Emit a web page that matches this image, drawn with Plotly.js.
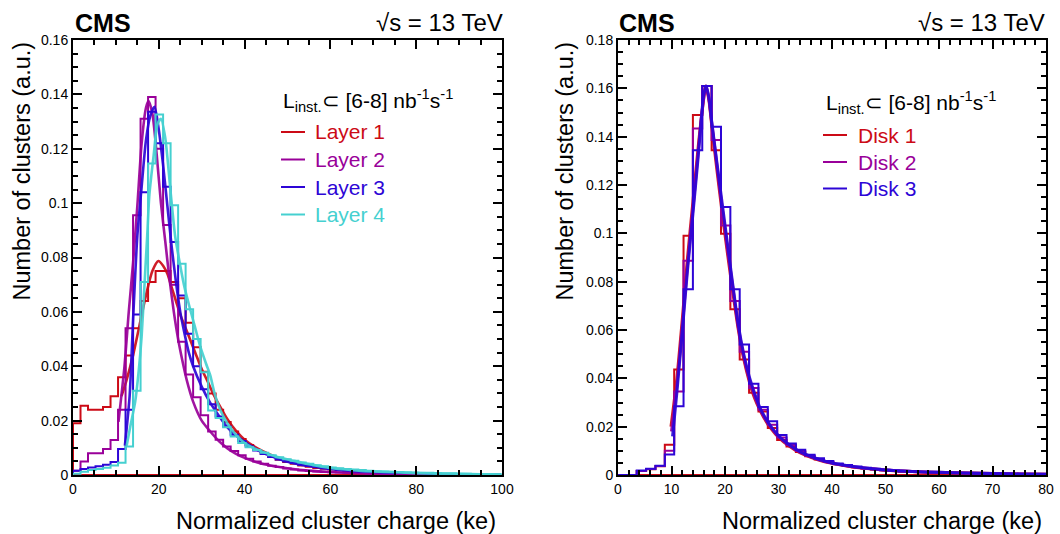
<!DOCTYPE html>
<html><head><meta charset="utf-8">
<script src="https://cdn.plot.ly/plotly-3.0.1.min.js"></script>
<style>html,body{margin:0;padding:0;background:#fff}#chart{width:1060px;height:534px}</style>
</head><body><div id="chart"></div>
<script>
// ---------------- DATA ----------------
const BIN_WIDTH = 1.75; // ke, histogram bins start at 0

// Left panel (barrel layers): histogram bin contents
const layer1Hist = [0.019,0.0255,0.024,0.024,0.025,0.029,0.036,0.044,0.054,0.064,0.071,0.075,0.075,0.071,0.065,0.056,0.047,0.038,0.030,0.024,0.0195,0.016,0.0132,0.011,0.0092,0.0078,0.0066,0.0056,0.0048,0.0041,0.0035,0.003,0.0026,0.0023,0.002,0.0018,0.0016,0.0014,0.0012,0.0011,0.001,0.0009,0.0008,0.0007,0.0006,0.0006,0.0005,0.0005,0.0004,0.0004,0.0004,0.0003,0.0003,0.0003,0.0002,0.0002,0.0002];
const layer2Hist = [0.0016,0.005,0.008,0.008,0.0096,0.0129,0.024,0.054,0.0955,0.131,0.139,0.120,0.092,0.070,0.049,0.037,0.0286,0.022,0.016,0.013,0.0105,0.0088,0.0073,0.006,0.005,0.0041,0.0034,0.0029,0.0024,0.002,0.0017,0.0015,0.0013,0.0011,0.001,0.0009,0.0008,0.0007,0.0006,0.0005,0.0005,0.0004,0.0004,0.0003,0.0003,0.0003,0.0002,0.0002,0.0002,0.0002,0.0001,0.0001,0.0001,0.0001,0.0001,0.0001,0.0001];
const layer3Hist = [0.0016,0.0022,0.0028,0.0032,0.0038,0.0048,0.0096,0.024,0.059,0.104,0.1336,0.122,0.106,0.0857,0.066,0.052,0.040,0.0315,0.026,0.0215,0.0178,0.0148,0.0125,0.0105,0.009,0.0077,0.0066,0.0057,0.005,0.0044,0.0038,0.0033,0.0029,0.0025,0.0022,0.002,0.0018,0.0016,0.0014,0.0012,0.0011,0.001,0.0009,0.0008,0.0007,0.0007,0.0006,0.0005,0.0005,0.0004,0.0004,0.0004,0.0003,0.0003,0.0003,0.0002,0.0002];
const layer4Hist = [0.0005,0.0012,0.0018,0.0022,0.0027,0.0035,0.0045,0.0105,0.031,0.071,0.1146,0.1326,0.122,0.0992,0.0777,0.061,0.050,0.0378,0.0237,0.021,0.0176,0.0142,0.0118,0.0102,0.0092,0.0082,0.0073,0.0065,0.0058,0.0052,0.0046,0.0041,0.0036,0.0032,0.0028,0.0025,0.0022,0.002,0.0018,0.0016,0.0014,0.0013,0.0012,0.0011,0.001,0.0009,0.0008,0.0008,0.0007,0.0006,0.0006,0.0005,0.0005,0.0004,0.0004,0.0004,0.0003];

// Left panel: fitted curves (x in ke, y)
const layer1FitX = [11.3,12.5,14,15.5,17,18.5,19.9,21,22,23,24,25,26,27,28.5,30,31.5,32.7,34,36,38,40,43,46,50,55,60];
const layer1FitY = [0.029,0.035,0.044,0.055,0.066,0.075,0.0787,0.077,0.074,0.069,0.064,0.059,0.055,0.051,0.045,0.039,0.034,0.0298,0.026,0.0205,0.0162,0.013,0.0098,0.0075,0.0053,0.0036,0.0025];
const layer2FitX = [10.6,12,13,14,15,16,17,17.6,18.5,19.5,20.5,21.5,22.5,23.5,24.5,25.5,26.5,28,30,32,34,36,38,40,43,46,50,55,60,65,70];
const layer2FitY = [0.0195,0.040,0.060,0.078,0.099,0.122,0.135,0.1375,0.133,0.118,0.100,0.086,0.072,0.060,0.050,0.042,0.035,0.027,0.020,0.016,0.0125,0.0098,0.0078,0.0063,0.0046,0.0035,0.0025,0.0016,0.0011,0.0008,0.0006];
const layer3FitX = [12.1,13.2,14,15,16,17,18,19,20,21,22,23,24,25,26,27,28,30,32,34,36,38,40,43,46,50,55,60,65,70,75];
const layer3FitY = [0.0108,0.029,0.057,0.088,0.106,0.123,0.132,0.1354,0.127,0.114,0.099,0.084,0.071,0.060,0.052,0.045,0.040,0.0325,0.0265,0.0218,0.0175,0.0145,0.0122,0.0092,0.0071,0.0049,0.0033,0.0022,0.0015,0.0011,0.0008];
const layer4FitX = [12.5,13.5,14.5,15.3,16,16.7,17.3,17.8,18.8,19.7,20.5,21.5,22.7,23.8,25,26,27.3,28.5,29.6,31,32,33,34.3,36,38,40,42,44,47,51.5,55,59.3,63,66.6,70,75,80,85,90,95,100];
const layer4FitY = [0.0108,0.019,0.027,0.038,0.051,0.071,0.088,0.103,0.1176,0.129,0.131,0.124,0.105,0.088,0.077,0.069,0.061,0.054,0.0476,0.041,0.0366,0.030,0.024,0.019,0.0148,0.0118,0.0100,0.0087,0.0069,0.0052,0.0040,0.0028,0.0021,0.0016,0.0013,0.001,0.0007,0.0005,0.0004,0.0003,0.0002];

// Right panel (forward disks): histogram bin contents
const disk1Hist = [0,0,0.0017,0.0024,0.0036,0.0125,0.0437,0.099,0.149,0.161,0.1344,0.0998,0.0686,0.0478,0.034,0.0263,0.0194,0.0145,0.0118,0.0095,0.0078,0.0064,0.0054,0.0045,0.0038,0.0032,0.0027,0.0023,0.002,0.0017,0.0015,0.0013,0.0011,0.001,0.0009,0.0008,0.0007,0.0006,0.0006,0.0005,0.0005,0.0004,0.0004,0.0003,0.0003,0.0003];
const disk2Hist = [0,0,0.0017,0.0025,0.0037,0.010,0.0346,0.0887,0.1434,0.161,0.1386,0.1032,0.072,0.051,0.036,0.027,0.0208,0.0155,0.0124,0.0099,0.008,0.0066,0.0055,0.0046,0.0039,0.0033,0.0028,0.0024,0.002,0.0017,0.0015,0.0013,0.0012,0.001,0.0009,0.0008,0.0007,0.0007,0.0006,0.0005,0.0005,0.0004,0.0004,0.0004,0.0003,0.0003];
const disk3Hist = [0,0,0.0019,0.0026,0.0038,0.0085,0.0284,0.0769,0.1344,0.161,0.1441,0.1109,0.0769,0.054,0.0378,0.0281,0.0222,0.0166,0.013,0.0104,0.0084,0.0069,0.0058,0.0048,0.0041,0.0035,0.003,0.0026,0.0022,0.0019,0.0016,0.0014,0.0012,0.0011,0.001,0.0009,0.0008,0.0007,0.0006,0.0006,0.0005,0.0005,0.0004,0.0004,0.0004,0.0003];

// Right panel: fitted curves
const disk1FitX = [9.9,11,12,13,14,15,15.8,16.4,17,17.5,18.5,19.5,20.5,21.5,22.5,23.5,24.5,25.5,26.5,28,29.5,31,33,35,37.5,40,43,46,50,55,60,65,70,75,80];
const disk1FitY = [0.020,0.040,0.064,0.090,0.113,0.136,0.152,0.161,0.155,0.145,0.126,0.108,0.091,0.075,0.060,0.048,0.039,0.032,0.027,0.021,0.0168,0.0136,0.0105,0.0082,0.0062,0.0048,0.0036,0.0028,0.002,0.0014,0.001,0.0008,0.0006,0.00045,0.00035];
const disk2FitX = [10,11,12,13,14,15,15.7,16.45,17,17.5,18.5,19.5,20.5,21.5,22.5,23.5,24.5,25.5,26.5,28,29.5,31,33,35,37.5,40,43,46,50,55,60,65,70,75,80];
const disk2FitY = [0.018,0.037,0.061,0.087,0.110,0.134,0.150,0.161,0.1555,0.146,0.128,0.110,0.093,0.077,0.061,0.049,0.040,0.033,0.0275,0.0215,0.0172,0.0139,0.0108,0.0084,0.0064,0.0049,0.0037,0.0029,0.0021,0.0015,0.0011,0.0008,0.0006,0.00045,0.00035];
const disk3FitX = [10.2,11,12,13,14,15,15.6,16,16.5,17,17.5,18.5,19.5,20.5,21.5,22.5,23.5,24.5,25.5,26.5,28,29.5,31,33,35,37.5,40,43,46,50,55,60,65,70,75,80];
const disk3FitY = [0.016,0.034,0.059,0.085,0.108,0.132,0.148,0.157,0.161,0.156,0.1465,0.129,0.112,0.095,0.078,0.062,0.050,0.041,0.034,0.028,0.022,0.0175,0.0142,0.011,0.0086,0.0065,0.005,0.0038,0.0029,0.0021,0.0015,0.0011,0.0008,0.0006,0.00045,0.00035];

const layerNames = ['Layer 1','Layer 2','Layer 3','Layer 4'];
const diskNames = ['Disk 1','Disk 2','Disk 3'];
const legendHeader = 'L<sub>inst.</sub>⊂ [6-8] nb<sup>-1</sup>s<sup>-1</sup>';

// ---------------- STYLE ----------------
const COLORS = ['#cc0a16', '#990099', '#2d05d6', '#45d0d0'];
const FONT = 'Liberation Sans, Arial, Helvetica, sans-serif';

function stepTrace(vals, color, xa, ya) {
  const x = [0], y = [0];
  for (let i = 0; i < vals.length; i++) { x.push(i * BIN_WIDTH); y.push(vals[i]); }
  x.push(vals.length * BIN_WIDTH); y.push(vals[vals.length - 1]);
  return {type: 'scatter', mode: 'lines', x: x, y: y, xaxis: xa, yaxis: ya,
    line: {shape: 'hv', color: color, width: 2}, showlegend: false, hoverinfo: 'skip'};
}
function fitTrace(xs, ys, color, xa, ya, w) {
  return {type: 'scatter', mode: 'lines', x: xs, y: ys, xaxis: xa, yaxis: ya,
    line: {shape: 'spline', smoothing: 0.7, color: color, width: w}, opacity: 0.92,
    showlegend: false, hoverinfo: 'skip'};
}
function baseline(xmax, xa, ya) {
  return {type: 'scatter', mode: 'lines', x: [0, xmax], y: [0, 0], xaxis: xa, yaxis: ya,
    line: {color: COLORS[0], width: 2}, showlegend: false, hoverinfo: 'skip'};
}

const leftHists = [layer1Hist, layer2Hist, layer3Hist, layer4Hist];
const leftFits = [[layer1FitX, layer1FitY], [layer2FitX, layer2FitY], [layer3FitX, layer3FitY], [layer4FitX, layer4FitY]];
const rightHists = [disk1Hist, disk2Hist, disk3Hist];
const rightFits = [[disk1FitX, disk1FitY], [disk2FitX, disk2FitY], [disk3FitX, disk3FitY]];

const traces = [baseline(100, 'x', 'y'), baseline(80, 'x2', 'y2')];
leftHists.forEach((h, i) => {
  traces.push(stepTrace(h, COLORS[i], 'x', 'y'));
  traces.push(fitTrace(leftFits[i][0], leftFits[i][1], COLORS[i], 'x', 'y', 2.6));
});
rightHists.forEach((h, i) => {
  traces.push(stepTrace(h, COLORS[i], 'x2', 'y2'));
  traces.push(fitTrace(rightFits[i][0], rightFits[i][1], COLORS[i], 'x2', 'y2', 3));
});

const W = 1060, H = 534;
const px = v => v / W, py = v => 1 - v / H;

function axisStyle(extra) {
  return Object.assign({
    showgrid: false, zeroline: false, showline: true, linecolor: '#000', linewidth: 2,
    mirror: 'allticks', ticks: 'inside', ticklen: 9, tickwidth: 2, tickcolor: '#000',
    tickfont: {family: FONT, size: 14, color: '#000'},
    minor: {ticks: 'inside', ticklen: 5, tickwidth: 2, tickcolor: '#000', showgrid: false}
  }, extra);
}

const ann = [];
const shapes = [];
function addText(text, x, y, size, opts) {
  ann.push(Object.assign({text: text, x: px(x), y: py(y), xref: 'paper', yref: 'paper',
    showarrow: false, font: {family: FONT, size: size, color: '#000'},
    xanchor: 'left', yanchor: 'middle'}, opts || {}));
}
// Panel labels
[[73, 505], [617, 1047]].forEach(([l, r]) => {
  addText('<b>CMS</b>', l, 23, 25);
  addText('√s = 13 TeV', r, 23, 24, {xanchor: 'right'});
});
// Axis titles
addText('Number of clusters (a.u.)', 22, 40, 23.5, {textangle: -90, xanchor: 'center', yanchor: 'top'});
addText('Number of clusters (a.u.)', 565, 40, 23.5, {textangle: -90, xanchor: 'center', yanchor: 'top'});
addText('Normalized cluster charge (ke)', 498, 521, 23.5, {xanchor: 'right'});
addText('Normalized cluster charge (ke)', 1044, 521, 23.5, {xanchor: 'right'});
// Legends
addText(legendHeader, 281, 100, 21);
[132, 159.5, 187, 214.5].forEach((yy, i) => {
  shapes.push({type: 'line', xref: 'paper', yref: 'paper', x0: px(281), x1: px(305), y0: py(yy), y1: py(yy), line: {color: COLORS[i], width: 2}});
  addText(layerNames[i], 313, yy, 21, {font: {family: FONT, size: 21, color: COLORS[i]}});
});
addText(legendHeader, 824, 102, 21);
[135, 162, 188.5].forEach((yy, i) => {
  shapes.push({type: 'line', xref: 'paper', yref: 'paper', x0: px(823), x1: px(847), y0: py(yy), y1: py(yy), line: {color: COLORS[i], width: 2}});
  addText(diskNames[i], 856, yy, 21, {font: {family: FONT, size: 21, color: COLORS[i]}});
});

const layout = {
  width: W, height: H, margin: {l: 0, r: 0, t: 0, b: 0},
  paper_bgcolor: '#fff', plot_bgcolor: '#fff', showlegend: false,
  font: {family: FONT, color: '#000'},
  xaxis: axisStyle({domain: [px(73), px(502)], range: [0, 100], dtick: 20, tick0: 0, anchor: 'y', minor: {ticks: 'inside', ticklen: 5, tickwidth: 2, tickcolor: '#000', dtick: 5}}),
  yaxis: axisStyle({domain: [1 - 475 / H, 1 - 40 / H], range: [0, 0.16], dtick: 0.02, tick0: 0, anchor: 'x', minor: {ticks: 'inside', ticklen: 5, tickwidth: 2, tickcolor: '#000', dtick: 0.005}}),
  xaxis2: axisStyle({domain: [px(618), px(1046)], range: [0, 80], dtick: 10, tick0: 0, anchor: 'y2', minor: {ticks: 'inside', ticklen: 5, tickwidth: 2, tickcolor: '#000', dtick: 2}}),
  yaxis2: axisStyle({domain: [1 - 475 / H, 1 - 40 / H], range: [0, 0.18], dtick: 0.02, tick0: 0, anchor: 'x2', minor: {ticks: 'inside', ticklen: 5, tickwidth: 2, tickcolor: '#000', dtick: 0.005}}),
  annotations: ann, shapes: shapes
};

Plotly.newPlot('chart', traces, layout, {staticPlot: true, displayModeBar: false});
</script>
</body></html>
